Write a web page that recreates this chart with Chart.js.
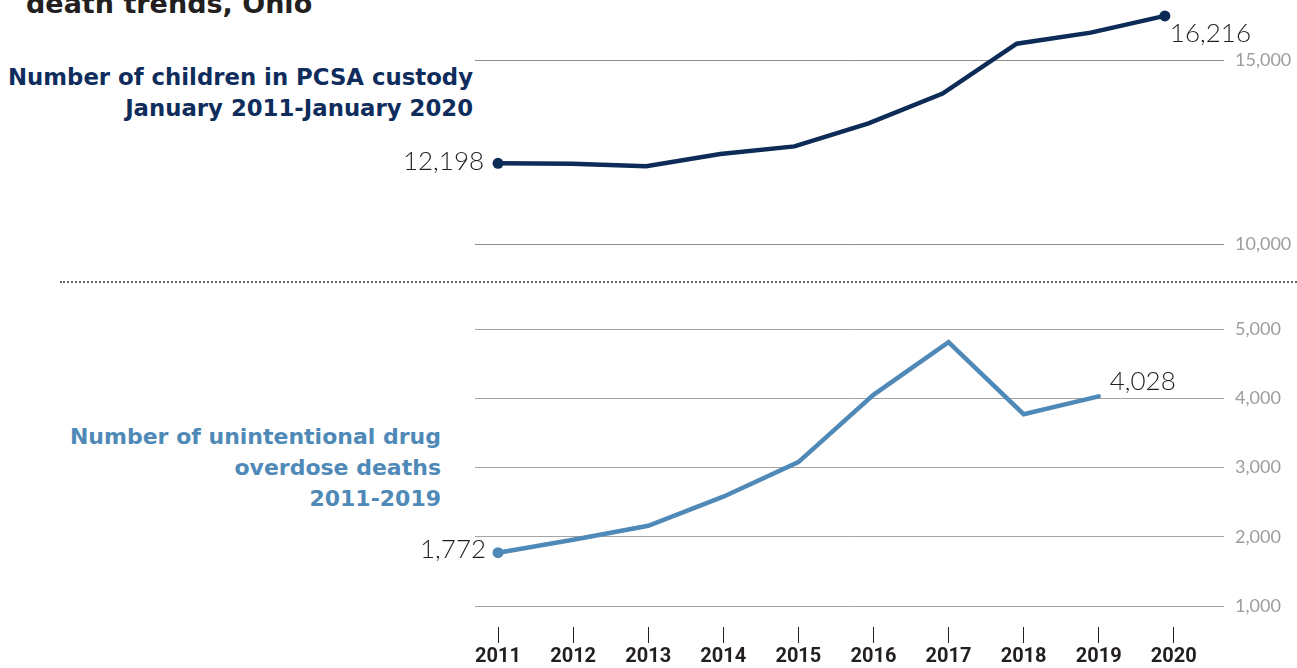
<!DOCTYPE html>
<html>
<head>
<meta charset="utf-8">
<script src="https://cdn.jsdelivr.net/npm/chart.js"></script>
<style>
  body { margin: 0; width: 1297px; height: 668px; overflow: hidden; background: #fff; position: relative; }
  #figTitle { position: absolute; left: 26px; top: -10px; font: bold 27px "DejaVu Sans", sans-serif; line-height: 27px; color: #231f20; white-space: nowrap; }
  .seriesTitle { position: absolute; text-align: right; font: bold 22px "DejaVu Sans", sans-serif; line-height: 31px; white-space: nowrap; }
  #title1 { right: 824px; top: 62px; color: #0f2d5c; font-size: 22.8px; }
  #title2 { right: 856px; top: 421px; color: #4f89b8; }
  #sep { position: absolute; left: 60px; right: 0; top: 281px; border-top: 2px dotted #666; }
  #wrap1 { position: absolute; left: 0; top: 0; width: 1297px; height: 270px; }
  #wrap2 { position: absolute; left: 0; top: 290px; width: 1297px; height: 378px; }
</style>
</head>
<body>
<div id="figTitle">death trends, Ohio</div>
<div id="title1" class="seriesTitle">Number of children in PCSA custody<br>January 2011-January 2020</div>
<div id="title2" class="seriesTitle">Number of unintentional drug<br>overdose deaths<br>2011-2019</div>
<div id="sep"></div>
<div id="wrap1"><canvas id="custodyChart" width="1297" height="270"></canvas></div>
<div id="wrap2"><canvas id="overdoseChart" width="1297" height="378"></canvas></div>

<script>
// 数据
const years = [2011, 2012, 2013, 2014, 2015, 2016, 2017, 2018, 2019, 2020];
const custody = [12198, 12190, 12120, 12450, 12660, 13290, 14100, 15460, 15760, 16216];
const overdoses = [1772, 1960, 2160, 2580, 3080, 4050, 4810, 3770, 4028];
const custodyTicks = [10000, 15000];
const overdoseTicks = [1000, 2000, 3000, 4000, 5000];

const fmt = v => Number(v).toLocaleString('en-US');

// 起点/终点数值标签
const endLabels = {
    id: 'endLabels',
    afterDatasetsDraw(chart, args, opts) {
        const meta = chart.getDatasetMeta(0);
        const data = chart.data.datasets[0].data;
        const ctx = chart.ctx;
        ctx.save();
        ctx.font = '300 26px Lato';
        ctx.fillStyle = '#231f20';
        ctx.textBaseline = 'middle';
        (opts.items || []).forEach(it => {
            const pt = meta.data[it.index];
            ctx.textAlign = it.align;
            ctx.fillText(fmt(data[it.index].y), pt.x + it.dx, pt.y + it.dy);
        });
        ctx.restore();
    }
};

function yAxis(min, max, ticks, gridColor) {
    return {
        position: 'right',
        min: min,
        max: max,
        border: { display: false },
        grid: { color: gridColor, lineWidth: 1, drawTicks: false },
        ticks: {
            padding: 11,
            color: '#9d9d9d',
            font: { family: 'Lato', size: 18 },
            callback: v => fmt(v)
        },
        afterBuildTicks: s => { s.ticks = ticks.map(v => ({ value: v })); },
        afterFit: s => { s.width = 73; s.paddingTop = 0; s.paddingBottom = 0; }
    };
}

// 上图：PCSA 托管儿童人数
new Chart(document.getElementById('custodyChart'), {
    type: 'line',
    data: {
        datasets: [{
            data: years.map((y, i) => ({ x: y, y: custody[i] })),
            borderColor: '#0c2b57',
            backgroundColor: '#0c2b57',
            borderWidth: 4.5,
            borderCapStyle: 'round',
            pointRadius: ctx => (ctx.dataIndex === 0 || ctx.dataIndex === custody.length - 1) ? 5.5 : 0,
            pointBorderWidth: 0,
            tension: 0
        }]
    },
    options: {
        responsive: false,
        animation: false,
        devicePixelRatio: 1,
        layout: { padding: { left: 475, right: 0, top: 5, bottom: 26 } },
        plugins: {
            legend: { display: false },
            tooltip: { enabled: false },
            endLabels: { items: [
                { index: 0, align: 'right', dx: -14, dy: -2 },
                { index: custody.length - 1, align: 'left', dx: 5, dy: 18 }
            ] }
        },
        scales: {
            x: { type: 'linear', display: false, min: 2010.689, max: 2020.798 },
            y: yAxis(10000, 16500, custodyTicks, '#8f8f8f')
        }
    },
    plugins: [endLabels]
});

// 下图：非故意药物过量死亡人数
new Chart(document.getElementById('overdoseChart'), {
    type: 'line',
    data: {
        datasets: [{
            data: overdoses.map((v, i) => ({ x: years[i], y: v })),
            borderColor: '#4f89b8',
            backgroundColor: '#4f89b8',
            borderWidth: 4.5,
            borderCapStyle: 'round',
            pointRadius: ctx => ctx.dataIndex === 0 ? 5.5 : 0,
            pointBorderWidth: 0,
            tension: 0
        }]
    },
    options: {
        responsive: false,
        animation: false,
        devicePixelRatio: 1,
        layout: { padding: { left: 475, right: 0, top: 39, bottom: 0 } },
        plugins: {
            legend: { display: false },
            tooltip: { enabled: false },
            endLabels: { items: [
                { index: 0, align: 'right', dx: -12, dy: -3 },
                { index: overdoses.length - 1, align: 'left', dx: 11, dy: -15 }
            ] }
        },
        scales: {
            x: {
                type: 'linear',
                min: 2010.693,
                max: 2020.669,
                border: { display: false },
                grid: { drawOnChartArea: false, drawTicks: true, tickLength: 16, color: '#231f20', lineWidth: 1 },
                ticks: {
                    padding: 2,
                    autoSkip: false,
                    maxRotation: 0,
                    color: '#231f20',
                    font: { family: 'Roboto', size: 20, weight: 'bold' },
                    callback: v => String(v)
                },
                afterBuildTicks: s => { s.ticks = years.map(v => ({ value: v })); },
                afterFit: s => { s.height = 41; }
            },
            y: yAxis(700, 5000, overdoseTicks, '#a3a3a3')
        }
    },
    plugins: [endLabels]
});
</script>
</body>
</html>
